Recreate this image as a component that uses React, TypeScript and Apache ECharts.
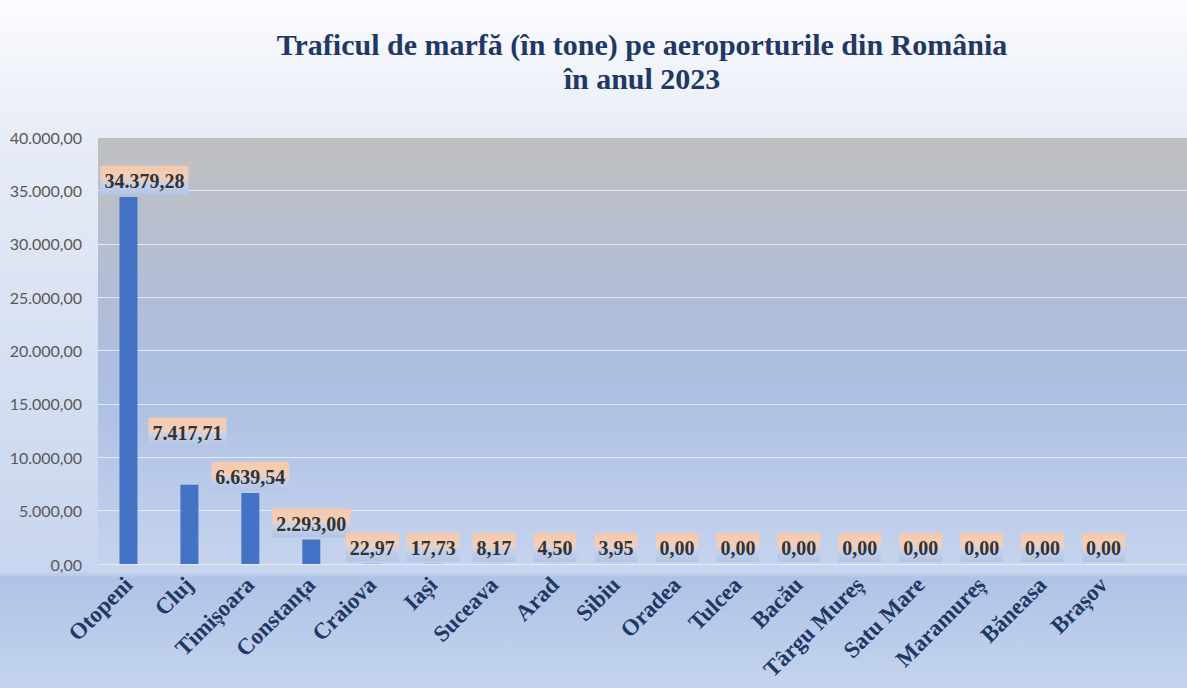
import React, { useEffect, useRef } from "react";
import * as echarts from "echarts";

const titleLines = ["Traficul de marfă (în tone) pe aeroporturile din România", "în anul 2023"];
const airports = [
  "Otopeni", "Cluj", "Timișoara", "Constanța", "Craiova", "Iași", "Suceava", "Arad", "Sibiu",
  "Oradea", "Tulcea", "Bacău", "Târgu Mureș", "Satu Mare", "Maramureș", "Băneasa", "Brașov",
];
const tonnes = [34379.28, 7417.71, 6639.54, 2293.0, 22.97, 17.73, 8.17, 4.5, 3.95, 0, 0, 0, 0, 0, 0, 0, 0];
const yMin = 0;
const yMax = 40000;
const yInterval = 5000;

function fmt(v: number): string {
  const [i, d] = Math.abs(v).toFixed(2).split(".");
  const withDots = i.replace(/\B(?=(\d{3})+(?!\d))/g, ".");
  return (v < 0 ? "-" : "") + withDots + "," + d;
}

export default function App() {
  const ref = useRef<HTMLDivElement>(null);
  useEffect(() => {
    document.body.style.margin = "0";
    if (!ref.current) return;
    const chart = echarts.init(ref.current, null, { renderer: "svg" });
    const labelBg = new echarts.graphic.LinearGradient(0, 0, 0, 1, [
      { offset: 0, color: "#f7c9a9" },
      { offset: 0.45, color: "#f0cfbd" },
      { offset: 0.6, color: "#c6d1ea" },
      { offset: 1, color: "#b3c4e5" },
    ]);
    const labelOffsets: Record<number, [number, number]> = { 0: [16, 0], 1: [-2, -36] };
    const data = tonnes.map((v, i) => {
      const item: any = { value: v };
      if (labelOffsets[i]) item.label = { offset: labelOffsets[i] };
      return item;
    });
    const gridTop = 137;
    const gridBottom = 124;
    chart.setOption({
      animation: false,
      backgroundColor: new echarts.graphic.LinearGradient(0, 0, 0, 1, [
        { offset: 0, color: "#fbfcfe" },
        { offset: 0.2, color: "#e7ecf6" },
        { offset: 0.83, color: "#c7d5ee" },
        { offset: 0.84, color: "#b0c3e6" },
        { offset: 1, color: "#c4d4ee" },
      ]),
      title: {
        text: titleLines.join("\n"),
        left: 637,
        textAlign: "center",
        top: 22,
        textStyle: {
          fontFamily: "Liberation Serif",
          fontWeight: "bold",
          fontSize: 30,
          lineHeight: 34,
          color: "#1f3864",
        },
      },
      grid: [
        {
          left: 98, right: 0, top: gridTop, bottom: gridBottom, show: true, borderWidth: 0,
          outerBoundsMode: "none", containLabel: false,
          backgroundColor: new echarts.graphic.LinearGradient(0, 0, 0, 1, [
            { offset: 0, color: "#c0c0c0" },
            { offset: 0.35, color: "#b2bdd6" },
            { offset: 0.6, color: "#adbfe3" },
            { offset: 1, color: "#c5d3ed" },
          ]),
        },
        {
          left: 98, right: 53, top: gridTop, bottom: gridBottom,
          outerBoundsMode: "none", containLabel: false,
        },
      ],
      xAxis: [
        { type: "value", gridIndex: 0, show: false, min: 0, max: 1 },
        {
          type: "category",
          gridIndex: 1,
          data: airports,
          axisLine: { show: false },
          axisTick: { show: false },
          axisLabel: {
            rotate: 45,
            interval: 0,
            margin: 17,
            fontFamily: "Liberation Serif",
            fontWeight: "bold",
            fontSize: 23,
            color: "#1f3864",
          },
        },
      ],
      yAxis: [
        {
          type: "value",
          gridIndex: 0,
          min: yMin,
          max: yMax,
          interval: yInterval,
          axisLine: { show: false },
          axisTick: { show: false },
          splitLine: { lineStyle: { color: "rgba(235,240,250,0.85)", width: 1 } },
          axisLabel: {
            formatter: (v: number) => fmt(v),
            fontFamily: "Lato",
            fontSize: 16,
            color: "#595959",
            margin: 16,
          },
        },
        {
          type: "value",
          gridIndex: 1,
          min: yMin,
          max: yMax,
          interval: yInterval,
          show: false,
          splitLine: { show: false },
        },
      ],
      series: [
        {
          type: "bar",
          xAxisIndex: 1,
          yAxisIndex: 1,
          data,
          barWidth: 18,
          itemStyle: { color: "#4472c4" },
          label: {
            show: true,
            position: "top",
            distance: 2,
            formatter: (p: any) => fmt(p.value),
            fontFamily: "Liberation Serif",
            fontWeight: "bold",
            fontSize: 20,
            color: "#333333",
            backgroundColor: labelBg,
            padding: [5, 4, 4, 4],
          },
        },
      ],
    });
    return () => chart.dispose();
  }, []);
  return <div ref={ref} style={{ width: 1187, height: 688 }} />;
}
